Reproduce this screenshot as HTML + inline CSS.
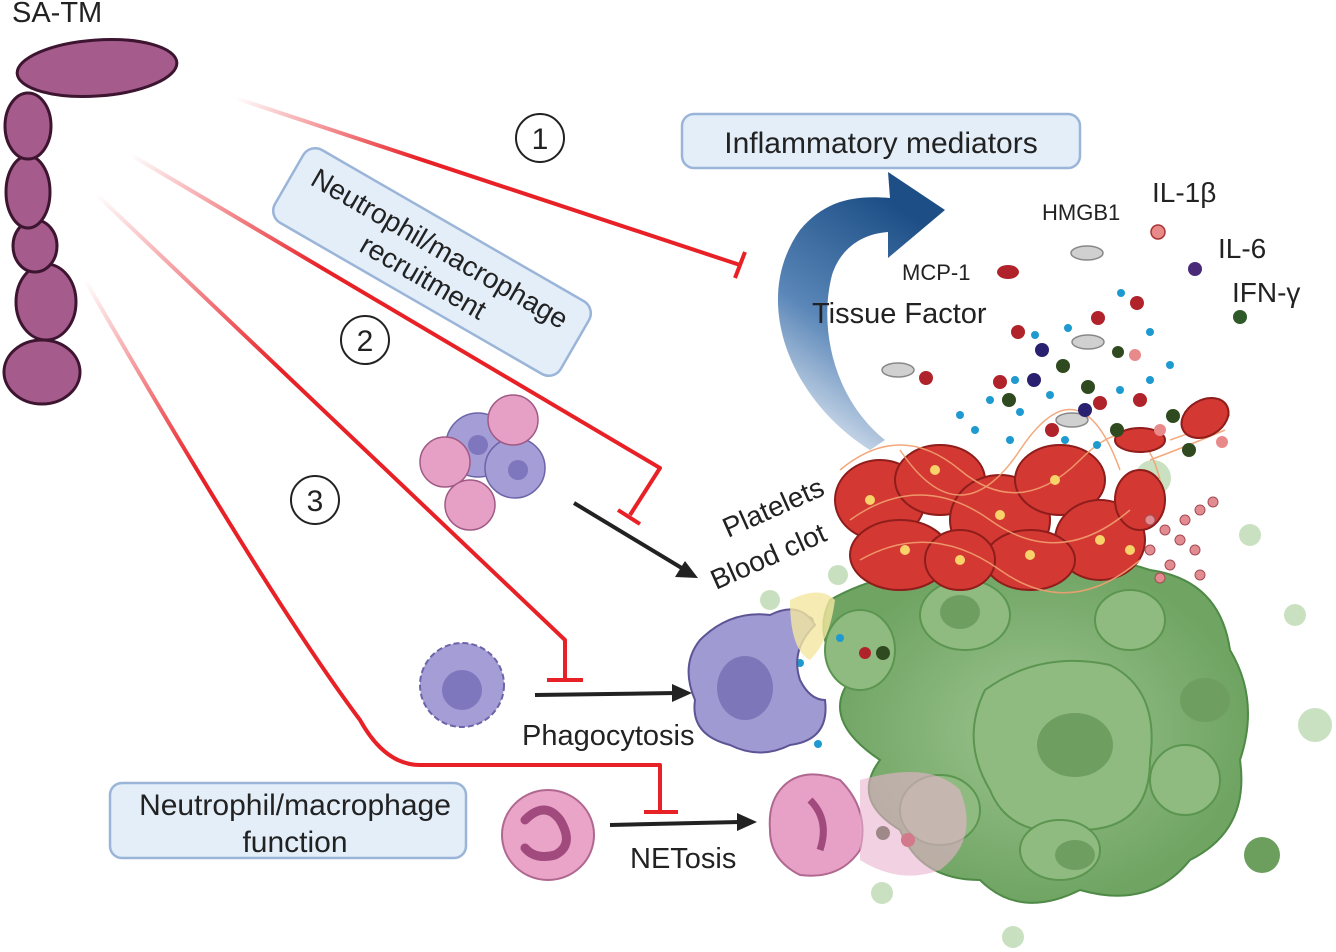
<!DOCTYPE html>
<html><head><meta charset="utf-8"><style>
html,body{margin:0;padding:0;background:#fff;}
svg{display:block;font-family:"Liberation Sans",sans-serif;}
</style></head><body>
<svg width="1336" height="952" viewBox="0 0 1336 952" xmlns="http://www.w3.org/2000/svg">
<defs>
<linearGradient id="g1" gradientUnits="userSpaceOnUse" x1="235" y1="98" x2="420" y2="160"><stop offset="0" stop-color="#e82127" stop-opacity="0"/><stop offset="1" stop-color="#e82127"/></linearGradient>
<linearGradient id="g2" gradientUnits="userSpaceOnUse" x1="130" y1="155" x2="320" y2="270"><stop offset="0" stop-color="#e82127" stop-opacity="0"/><stop offset="1" stop-color="#e82127"/></linearGradient>
<linearGradient id="g3" gradientUnits="userSpaceOnUse" x1="95" y1="195" x2="280" y2="370"><stop offset="0" stop-color="#e82127" stop-opacity="0"/><stop offset="1" stop-color="#e82127"/></linearGradient>
<linearGradient id="g4" gradientUnits="userSpaceOnUse" x1="85" y1="280" x2="200" y2="470"><stop offset="0" stop-color="#e82127" stop-opacity="0"/><stop offset="1" stop-color="#e82127"/></linearGradient>
<linearGradient id="ba" x1="0" y1="1" x2="0.4" y2="0"><stop offset="0" stop-color="#fff"/><stop offset="0.5" stop-color="#5a86b8"/><stop offset="1" stop-color="#1d4f86"/></linearGradient>
<radialGradient id="gr"><stop offset="0" stop-color="#9cc48e"/><stop offset="1" stop-color="#6fa463"/></radialGradient>
</defs>

<text x="12" y="22" font-size="29" fill="#222">SA-TM</text>
<g fill="#a55c8c" stroke="#3e1530" stroke-width="3">
<ellipse cx="42" cy="372" rx="38" ry="32"/>
<ellipse cx="46" cy="302" rx="30" ry="38"/>
<ellipse cx="35" cy="246" rx="22" ry="26"/>
<ellipse cx="28" cy="192" rx="22" ry="36"/>
<ellipse cx="28" cy="126" rx="23" ry="33"/>
<ellipse cx="97" cy="68" rx="80" ry="28" transform="rotate(-4 97 68)"/>
</g>

<g fill="none" stroke-width="4" stroke-linejoin="round">
<path d="M235,98 L740,265" stroke="url(#g1)"/>
<path d="M131,155 L660,468 L630,515" stroke="url(#g2)"/>
<path d="M97,195 L565,640 L565,680" stroke="url(#g3)"/>
<path d="M85,280 Q270,600 360,720 Q385,765 420,765 L660,765 L660,810" stroke="url(#g4)"/>
</g>
<g stroke="#e82127" stroke-width="4">
<line x1="735" y1="278" x2="745" y2="252"/>
<line x1="618" y1="510" x2="640" y2="524"/>
<line x1="547" y1="680" x2="583" y2="680"/>
<line x1="644" y1="812" x2="678" y2="812"/>
</g>

<g fill="#fff" stroke="#222" stroke-width="2">
<circle cx="540" cy="138" r="24"/><circle cx="365" cy="340" r="24"/><circle cx="315" cy="500" r="24"/>
</g>
<g font-size="30" text-anchor="middle" fill="#222">
<text x="540" y="149">1</text><text x="365" y="351">2</text><text x="315" y="511">3</text>
</g>

<rect x="682" y="114" width="398" height="54" rx="12" fill="#e3eef9" stroke="#9bb5d9" stroke-width="2.5"/>
<text x="881" y="153" font-size="30" text-anchor="middle" fill="#222">Inflammatory mediators</text>
<g transform="translate(432,262) rotate(30)">
<rect x="-165" y="-42" width="330" height="84" rx="14" fill="#e3eef9" stroke="#9bb5d9" stroke-width="2.5"/>
<text x="0" y="-6" font-size="28" text-anchor="middle" fill="#222">Neutrophil/macrophage</text>
<text x="0" y="27" font-size="28" text-anchor="middle" fill="#222">recruitment</text>
</g>
<rect x="110" y="783" width="356" height="75" rx="12" fill="#e3eef9" stroke="#9bb5d9" stroke-width="2.5"/>
<text x="295" y="815" font-size="30" text-anchor="middle" fill="#222">Neutrophil/macrophage</text>
<text x="295" y="852" font-size="30" text-anchor="middle" fill="#222">function</text>

<path d="M870,450 C790,400 750,300 800,230 C825,200 855,195 890,198 L888,172 L945,210 L888,258 L888,232 C860,234 840,250 832,275 C818,330 835,400 885,440 Z" fill="url(#ba)"/>

<g fill="url(#gr)" stroke="#4f8a46" stroke-width="2">
<path d="M830,600 Q900,560 980,580 Q1060,540 1150,570 Q1220,580 1230,650 Q1260,700 1240,760 Q1250,830 1190,860 Q1150,910 1080,890 Q1020,920 980,880 Q920,880 900,830 Q850,800 880,760 Q820,720 850,680 Q810,640 830,600 Z"/>
</g>
<g fill="#8fbb81" stroke="#5b9550" stroke-width="2">
<path d="M985,690 Q1040,650 1110,665 Q1160,690 1150,760 Q1150,830 1080,830 Q1010,840 990,790 Q960,740 985,690Z"/>
<ellipse cx="965" cy="615" rx="45" ry="35"/><ellipse cx="1130" cy="620" rx="35" ry="30"/>
<ellipse cx="1185" cy="780" rx="35" ry="35"/><ellipse cx="940" cy="810" rx="40" ry="35"/>
<ellipse cx="1060" cy="850" rx="40" ry="30"/><ellipse cx="860" cy="650" rx="35" ry="40"/>
</g>
<g fill="#6e9f61"><ellipse cx="1075" cy="745" rx="38" ry="32"/><ellipse cx="1205" cy="700" rx="25" ry="22"/><ellipse cx="960" cy="612" rx="20" ry="17"/><ellipse cx="1075" cy="855" rx="20" ry="15"/></g>
<g fill="#bcd9b1" opacity="0.8">
<circle cx="1250" cy="535" r="11"/><circle cx="1295" cy="615" r="11"/><circle cx="1315" cy="725" r="17"/><circle cx="882" cy="893" r="11"/><circle cx="1013" cy="937" r="11"/><circle cx="838" cy="575" r="10"/><circle cx="770" cy="600" r="10"/><circle cx="1153" cy="478" r="18"/>
</g>
<circle cx="1262" cy="855" r="18" fill="#6c9f5d"/>

<g fill="#d33833" stroke="#8e1d1b" stroke-width="2">
<ellipse cx="880" cy="500" rx="45" ry="40"/><ellipse cx="940" cy="480" rx="45" ry="35"/>
<ellipse cx="1000" cy="520" rx="50" ry="45"/><ellipse cx="1060" cy="480" rx="45" ry="35"/>
<ellipse cx="1100" cy="540" rx="45" ry="40"/><ellipse cx="900" cy="555" rx="50" ry="35"/>
<ellipse cx="1030" cy="560" rx="45" ry="30"/><ellipse cx="960" cy="560" rx="35" ry="30"/>
<ellipse cx="1140" cy="500" rx="25" ry="30"/>
</g>
<g fill="none" stroke="#f2a070" stroke-width="1.5" opacity="0.9">
<path d="M840,470 Q900,420 960,470 T1080,460 T1160,480"/><path d="M850,520 Q920,470 990,520 T1130,510"/>
<path d="M860,560 Q930,520 1000,570 T1140,560"/><path d="M900,450 Q960,540 1020,450 T1120,470"/>
<path d="M1170,440 Q1200,430 1230,415"/><path d="M1150,460 Q1190,445 1225,430"/>
</g>
<g fill="#f7d36a">
<circle cx="870" cy="500" r="5"/><circle cx="935" cy="470" r="5"/><circle cx="1000" cy="515" r="5"/><circle cx="1055" cy="480" r="5"/><circle cx="1100" cy="540" r="5"/><circle cx="905" cy="550" r="5"/><circle cx="1030" cy="555" r="5"/><circle cx="960" cy="560" r="5"/><circle cx="1130" cy="550" r="5"/>
</g>
<g fill="#e28b91" stroke="#a34c55" stroke-width="1">
<circle cx="1150" cy="520" r="5"/><circle cx="1165" cy="530" r="5"/><circle cx="1180" cy="540" r="5"/><circle cx="1195" cy="550" r="5"/><circle cx="1200" cy="575" r="5"/><circle cx="1170" cy="565" r="5"/><circle cx="1185" cy="520" r="5"/><circle cx="1200" cy="510" r="5"/><circle cx="1213" cy="502" r="5"/><circle cx="1150" cy="550" r="5"/><circle cx="1160" cy="578" r="5"/>
</g>

<g fill="#d33833" stroke="#8e1d1b" stroke-width="2">
<ellipse cx="1205" cy="418" rx="25" ry="18" transform="rotate(-30 1205 418)"/>
<ellipse cx="1140" cy="440" rx="25" ry="12"/>
</g>

<ellipse cx="1008" cy="272" rx="11" ry="7" fill="#b0232a"/>
<g fill="#d0d0d0" stroke="#888" stroke-width="1.5">
<ellipse cx="1087" cy="253" rx="16" ry="7"/><ellipse cx="898" cy="370" rx="16" ry="7"/><ellipse cx="1088" cy="342" rx="16" ry="7"/><ellipse cx="1072" cy="420" rx="16" ry="7"/><ellipse cx="782" cy="716" rx="16" ry="7"/>
</g>
<circle cx="1158" cy="232" r="7" fill="#e98a8a" stroke="#a33" stroke-width="1.5"/>
<circle cx="1195" cy="269" r="7" fill="#4a2a78"/>
<circle cx="1240" cy="317" r="7" fill="#2e5a2a"/>
<g fill="#b0232a">
<circle cx="926" cy="378" r="7"/><circle cx="1018" cy="332" r="7"/><circle cx="1098" cy="318" r="7"/><circle cx="1137" cy="303" r="7"/><circle cx="1000" cy="382" r="7"/><circle cx="1140" cy="400" r="7"/><circle cx="1100" cy="403" r="7"/><circle cx="1052" cy="430" r="7"/><circle cx="865" cy="653" r="6"/><circle cx="908" cy="840" r="7"/><circle cx="801" cy="861" r="7"/>
</g>
<g fill="#e98a8a"><circle cx="1135" cy="355" r="6"/><circle cx="1222" cy="442" r="6"/><circle cx="1160" cy="430" r="6"/></g>
<g fill="#2e4a1e"><circle cx="1063" cy="366" r="7"/><circle cx="1117" cy="430" r="7"/><circle cx="1173" cy="416" r="7"/><circle cx="1189" cy="450" r="7"/><circle cx="1009" cy="400" r="7"/><circle cx="1088" cy="387" r="7"/><circle cx="883" cy="653" r="7"/><circle cx="883" cy="833" r="7"/><circle cx="1118" cy="352" r="6"/></g>
<g fill="#2a2070"><circle cx="1042" cy="350" r="7"/><circle cx="1034" cy="380" r="7"/><circle cx="1085" cy="410" r="7"/><circle cx="808" cy="622" r="6"/><circle cx="757" cy="716" r="7"/></g>
<g fill="#1e9ad0">
<circle cx="1121" cy="293" r="4"/><circle cx="1068" cy="328" r="4"/><circle cx="1150" cy="332" r="4"/><circle cx="1035" cy="335" r="4"/><circle cx="1050" cy="395" r="4"/><circle cx="1020" cy="412" r="4"/><circle cx="990" cy="400" r="4"/><circle cx="960" cy="415" r="4"/><circle cx="975" cy="430" r="4"/><circle cx="1015" cy="380" r="4"/><circle cx="1120" cy="390" r="4"/><circle cx="1097" cy="445" r="4"/><circle cx="1150" cy="380" r="4"/><circle cx="1010" cy="440" r="4"/><circle cx="1065" cy="440" r="4"/><circle cx="840" cy="638" r="4"/><circle cx="800" cy="663" r="4"/><circle cx="818" cy="744" r="4"/><circle cx="1170" cy="365" r="4"/>
</g>

<path d="M700,640 Q730,610 770,615 Q800,600 815,625 Q790,650 800,680 Q810,700 825,700 Q830,740 790,745 Q760,760 730,745 Q690,735 695,700 Q680,665 700,640Z" fill="#a09ad2" stroke="#5c5494" stroke-width="2"/>
<ellipse cx="745" cy="688" rx="28" ry="32" fill="#7d77ba"/>
<path d="M790,600 Q820,585 835,600 Q830,640 810,660 Q790,650 790,600Z" fill="#f4e7a0" opacity="0.8"/>

<g stroke="#6c64a8" stroke-width="1.5">
<circle cx="478" cy="445" r="32" fill="#a49dd6"/><circle cx="515" cy="468" r="30" fill="#a49dd6"/>
</g>
<g fill="#e6a0c5" stroke="#a05a85" stroke-width="1.5">
<circle cx="445" cy="462" r="25"/><circle cx="513" cy="420" r="25"/><circle cx="470" cy="505" r="25"/>
</g>
<g fill="#7f77bd"><circle cx="478" cy="445" r="10"/><circle cx="518" cy="470" r="10"/></g>

<g>
<circle cx="462" cy="685" r="42" fill="#a49dd6" stroke="#6c64a8" stroke-width="2" stroke-dasharray="6 3"/>
<circle cx="462" cy="690" r="20" fill="#7f77bd"/>
</g>

<ellipse cx="548" cy="835" rx="46" ry="45" fill="#eaa4c8" stroke="#b06890" stroke-width="2"/>
<path d="M525,820 Q545,800 560,820 Q575,845 555,855 Q535,860 525,848" fill="none" stroke="#a04a7d" stroke-width="9" stroke-linecap="round"/>

<path d="M780,790 Q800,765 840,780 Q870,810 860,850 Q840,880 800,875 Q770,860 770,830 Q768,805 780,790Z" fill="#e7a1c7" stroke="#b06890" stroke-width="2"/>
<path d="M860,780 Q930,760 960,790 Q980,840 940,870 Q900,885 860,860Z" fill="#e9b3cf" opacity="0.6"/>
<path d="M810,800 Q830,820 820,850" fill="none" stroke="#a04a7d" stroke-width="7"/>

<g stroke="#222" stroke-width="4" fill="#222">
<line x1="574" y1="503" x2="685" y2="570"/><polygon points="698,578 675,577 685,561" stroke="none"/>
<line x1="535" y1="695" x2="676" y2="693"/><polygon points="692,693 672,684 672,702" stroke="none"/>
<line x1="610" y1="825" x2="740" y2="822"/><polygon points="757,822 737,813 737,831" stroke="none"/>
</g>

<g fill="#222">
<text x="522" y="745" font-size="29">Phagocytosis</text>
<text x="630" y="868" font-size="29">NETosis</text>
<text x="812" y="323" font-size="29">Tissue Factor</text>
<text x="902" y="280" font-size="22">MCP-1</text>
<text x="1042" y="220" font-size="22">HMGB1</text>
<text x="1152" y="202" font-size="28">IL-1β</text>
<text x="1218" y="258" font-size="28">IL-6</text>
<text x="1232" y="302" font-size="28">IFN-γ</text>
<text x="728" y="538" font-size="28" transform="rotate(-24 728 538)">Platelets</text>
<text x="716" y="590" font-size="28" transform="rotate(-24 716 590)">Blood clot</text>
</g>
</svg>
</body></html>
